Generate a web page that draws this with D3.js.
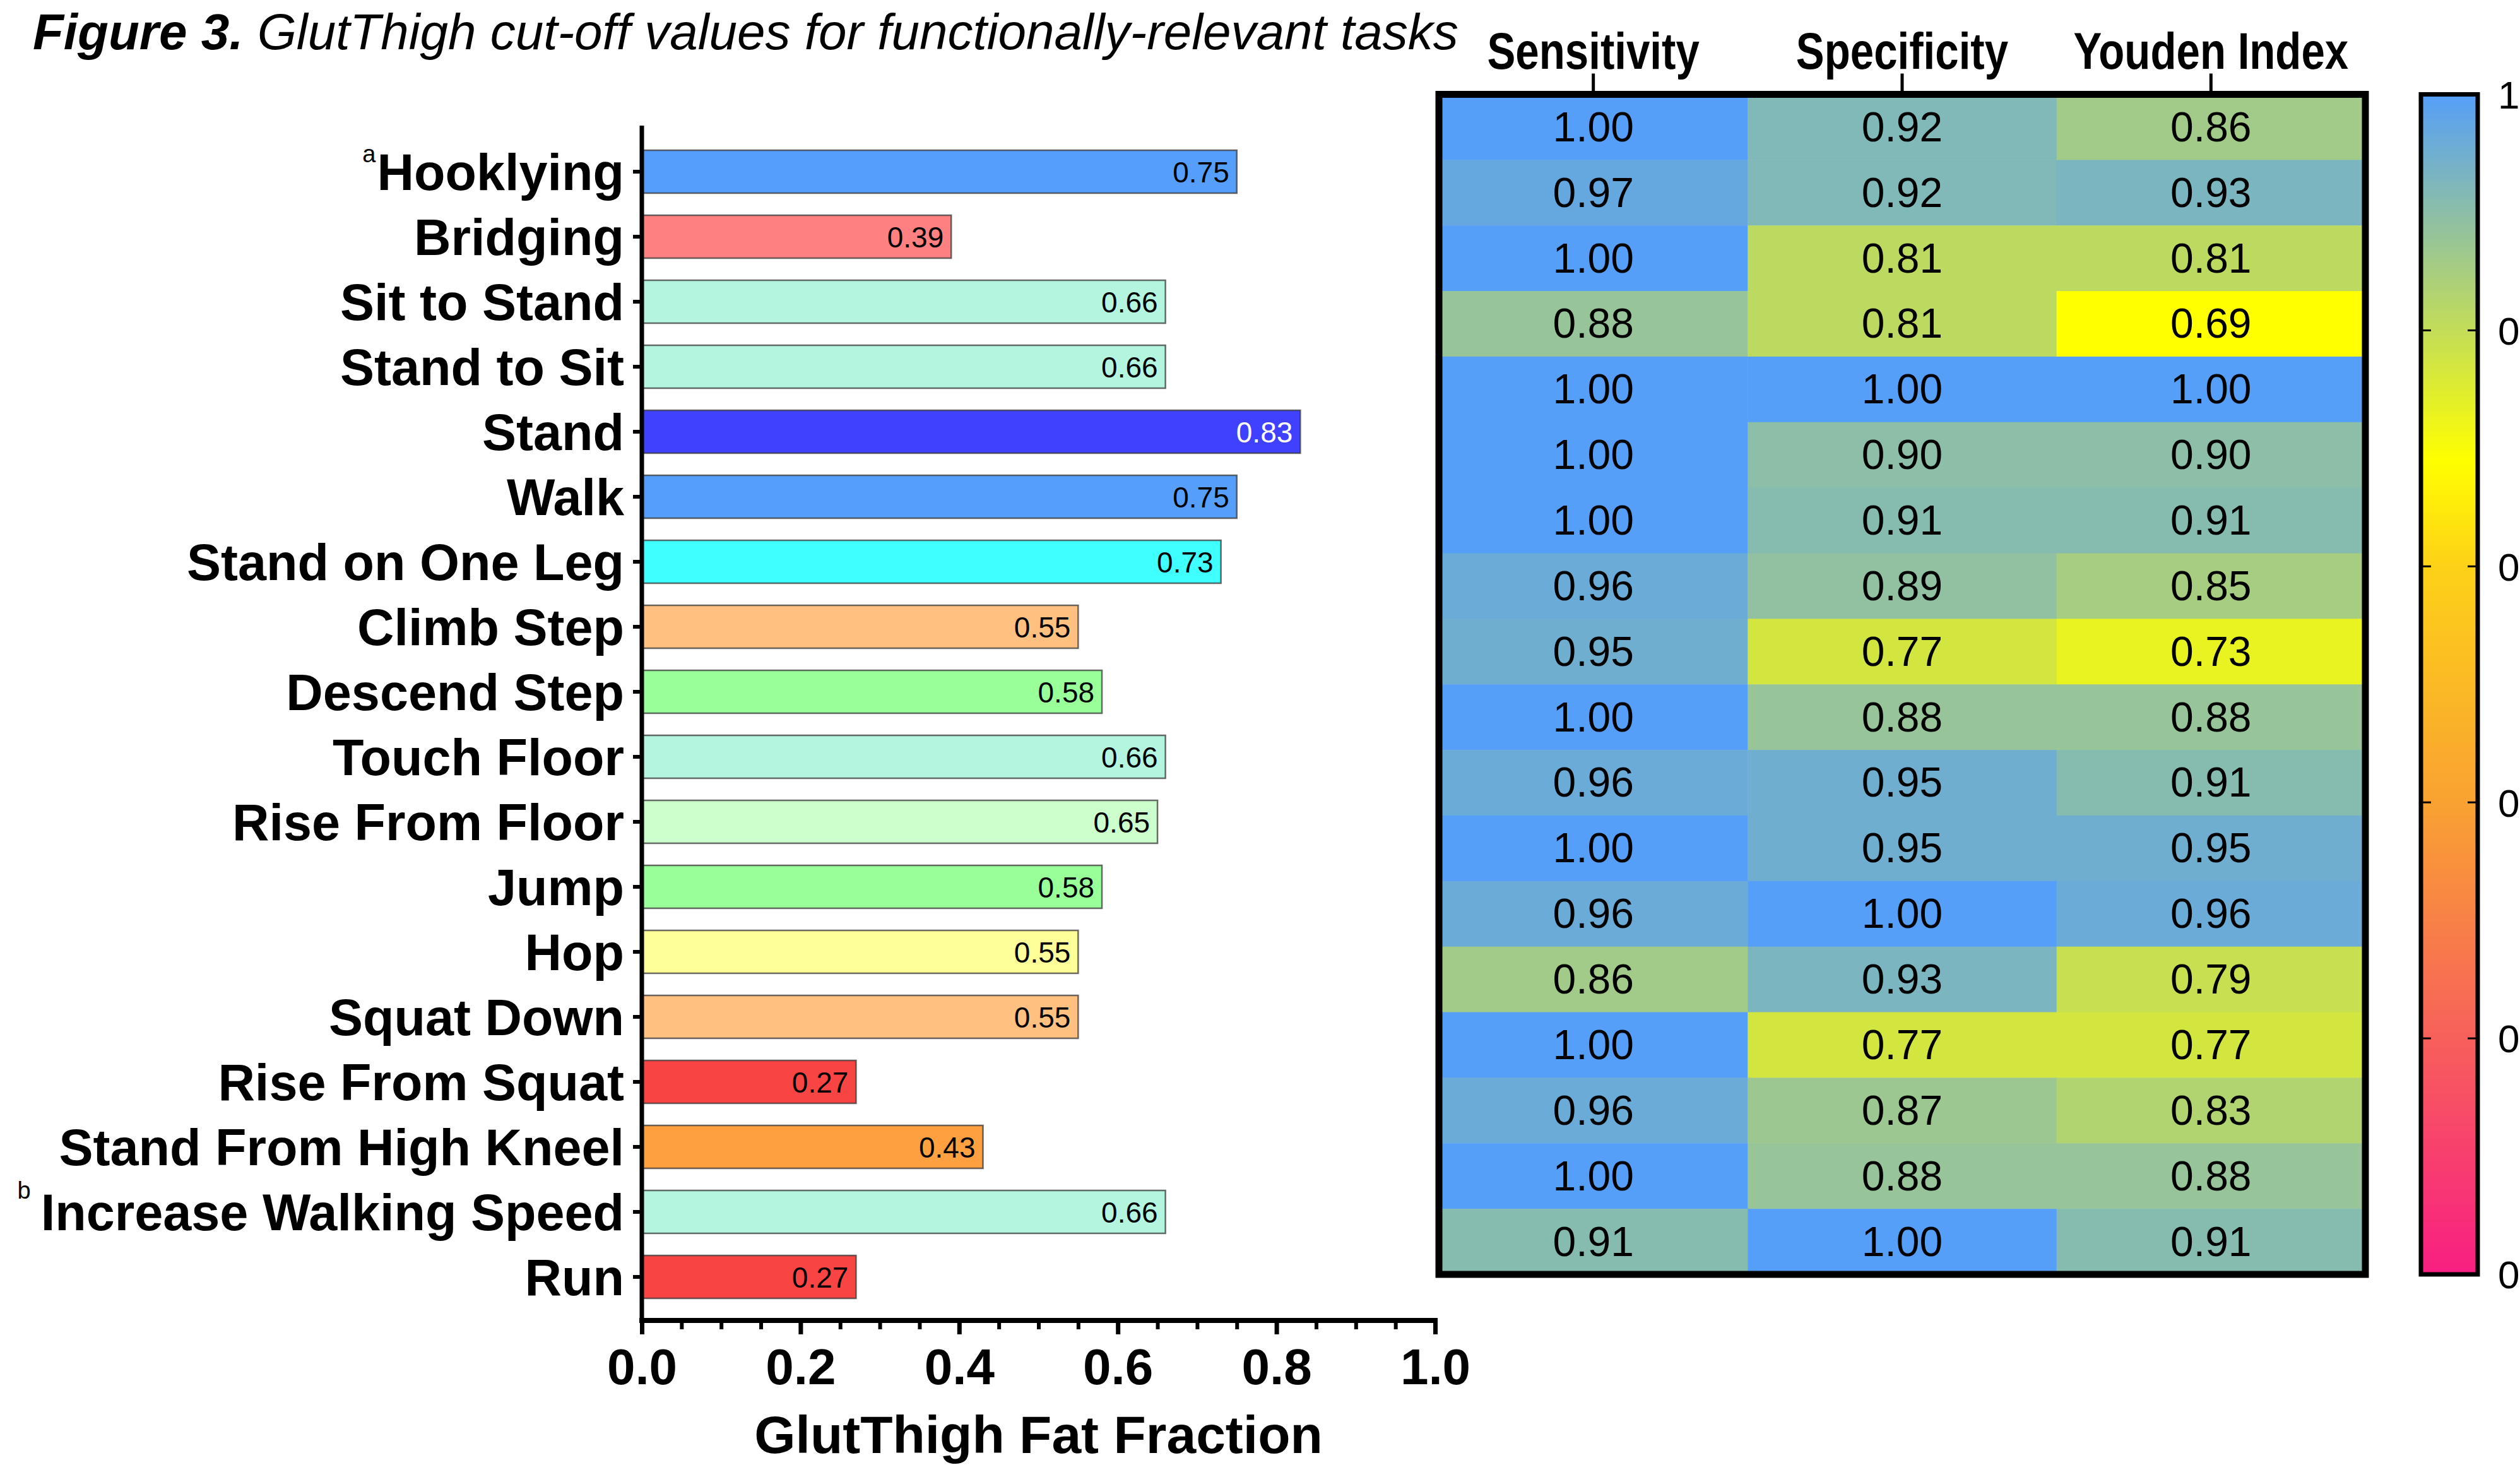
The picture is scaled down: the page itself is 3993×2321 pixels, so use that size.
<!DOCTYPE html>
<html>
<head>
<meta charset="utf-8">
<script src="https://cdn.jsdelivr.net/npm/d3@7"></script>
<style>
  html, body { margin: 0; padding: 0; background: #ffffff; overflow: hidden; }
  svg { display: block; }
</style>
</head>
<body>
<svg id="chart" width="3993" height="2321"></svg>
<script>
// ---------------- DATA ----------------
const tasks = ["Hooklying", "Bridging", "Sit to Stand", "Stand to Sit", "Stand", "Walk",
  "Stand on One Leg", "Climb Step", "Descend Step", "Touch Floor", "Rise From Floor",
  "Jump", "Hop", "Squat Down", "Rise From Squat", "Stand From High Kneel",
  "Increase Walking Speed", "Run"];
const taskNotes = ["a", "", "", "", "", "", "", "", "", "", "", "", "", "", "", "", "b", ""];
const cutoffs = [0.75, 0.39, 0.66, 0.66, 0.83, 0.75, 0.73, 0.55, 0.58, 0.66, 0.65,
  0.58, 0.55, 0.55, 0.27, 0.43, 0.66, 0.27];
const barColors = ["#559ffb", "#ff8080", "#b3f5df", "#b3f5df", "#4040ff", "#559ffb",
  "#40ffff", "#ffc080", "#99ff99", "#b3f5df", "#ccffcc", "#99ff99", "#ffff99",
  "#ffc080", "#f94444", "#ffa040", "#b3f5df", "#f94444"];
const barLabelColors = ["#000", "#000", "#000", "#000", "#fff", "#000", "#000", "#000",
  "#000", "#000", "#000", "#000", "#000", "#000", "#000", "#000", "#000", "#000"];

const metrics = ["Sensitivity", "Specificity", "Youden Index"];
const sensitivity = [1.00, 0.97, 1.00, 0.88, 1.00, 1.00, 1.00, 0.96, 0.95, 1.00, 0.96,
  1.00, 0.96, 0.86, 1.00, 0.96, 1.00, 0.91];
const specificity = [0.92, 0.92, 0.81, 0.81, 1.00, 0.90, 0.91, 0.89, 0.77, 0.88, 0.95,
  0.95, 1.00, 0.93, 0.77, 0.87, 0.88, 1.00];
const youden = [0.86, 0.93, 0.81, 0.69, 1.00, 0.90, 0.91, 0.85, 0.73, 0.88, 0.91,
  0.95, 0.96, 0.79, 0.77, 0.83, 0.88, 0.91];

const xTicks = [0.0, 0.2, 0.4, 0.6, 0.8, 1.0];
const xMinorTicks = d3.range(0, 21).map(i => i * 0.05);
const colorbarTicks = [0.0, 0.2, 0.4, 0.6, 0.8, 1.0];
const colorStopValues = [0.0, 0.2, 0.4, 0.6, 0.69, 1.0];
const colorStopColors = ["#f81e82", "#f7605b", "#f9a232", "#fdd118", "#ffff00", "#559ff8"];

const titleBold = "Figure 3.";
const titleRest = " GlutThigh cut-off values for functionally-relevant tasks";
const xTitle = "GlutThigh Fat Fraction";

// ---------------- LAYOUT ----------------
const svg = d3.select("#chart");
const FONT = "'Liberation Sans', Arial, Helvetica, sans-serif";

// Title
const title = svg.append("text")
  .attr("x", 52).attr("y", 78)
  .attr("font-family", FONT).attr("font-size", 80).attr("font-style", "italic");
title.append("tspan").attr("font-weight", "bold").text(titleBold);
title.append("tspan").attr("font-weight", "normal").text(titleRest);

// ---------------- BAR CHART ----------------
const x = d3.scaleLinear().domain([0, 1]).range([1017, 2274]);
const y = d3.scaleBand().domain(tasks).range([220.5, 2074.5])
  .paddingInner(0.34).paddingOuter(0.17);

const barData = tasks.map((t, i) => ({ task: t, value: cutoffs[i], color: barColors[i],
  labelColor: barLabelColors[i], note: taskNotes[i] }));

const bars = svg.append("g");
bars.selectAll("rect").data(barData).enter().append("rect")
  .attr("x", x(0))
  .attr("y", d => y(d.task))
  .attr("width", d => x(d.value) - x(0))
  .attr("height", y.bandwidth())
  .attr("fill", d => d.color)
  .attr("stroke", "#3a3a3a")
  .attr("stroke-opacity", 0.75)
  .attr("stroke-width", 2.5);

bars.selectAll("text.val").data(barData).enter().append("text")
  .attr("class", "val")
  .attr("x", d => x(d.value) - 12)
  .attr("y", d => y(d.task) + y.bandwidth() / 2)
  .attr("dy", "0.36em")
  .attr("text-anchor", "end")
  .attr("font-family", FONT).attr("font-size", 46)
  .attr("fill", d => d.labelColor)
  .text(d => d3.format(".2f")(d.value));

// X axis: minor ticks
const xAxisY = 2092;
const xAxisMinor = d3.axisBottom(x).tickValues(xMinorTicks).tickSize(14).tickFormat("");
const gMinor = svg.append("g").attr("transform", `translate(0,${xAxisY})`).call(xAxisMinor);
gMinor.select(".domain").remove();
gMinor.selectAll("line").attr("stroke", "#000").attr("stroke-width", 6);

const xAxis = d3.axisBottom(x).tickValues(xTicks).tickSize(22).tickSizeOuter(0)
  .tickPadding(22).tickFormat(d3.format(".1f"));
const gx = svg.append("g").attr("transform", `translate(0,${xAxisY})`).call(xAxis);
gx.select(".domain").attr("stroke", "#000").attr("stroke-width", 8)
  .attr("d", `M${x(0) - 4},0H${x(1) + 4}`);
gx.selectAll(".tick line").attr("stroke", "#000").attr("stroke-width", 7);
gx.selectAll(".tick text").attr("font-family", FONT).attr("font-size", 80)
  .attr("font-weight", "bold").attr("fill", "#000").attr("dy", "0.71em")
  .attr("y", 44);

svg.append("text")
  .attr("x", (x(0) + x(1)) / 2).attr("y", 2302)
  .attr("text-anchor", "middle")
  .attr("font-family", FONT).attr("font-size", 84).attr("font-weight", "bold")
  .text(xTitle);

// Y axis
const yAxis = d3.axisLeft(y).tickSize(14).tickSizeOuter(0).tickPadding(10).tickFormat("");
const gy = svg.append("g").attr("transform", `translate(${x(0)},0)`).call(yAxis);
gy.select(".domain").attr("stroke", "#000").attr("stroke-width", 7)
  .attr("d", `M0,199V${xAxisY + 4}`);
gy.selectAll(".tick line").attr("stroke", "#000").attr("stroke-width", 6);

const LABEL_SIZE = 81;
const catLabels = svg.append("g");
catLabels.selectAll("text").data(barData).enter().append("text")
  .attr("x", 989)
  .attr("y", d => y(d.task) + y.bandwidth() / 2 + LABEL_SIZE * 0.36)
  .attr("text-anchor", "end")
  .attr("font-family", FONT).attr("font-size", LABEL_SIZE).attr("font-weight", "bold")
  .each(function (d) {
    const t = d3.select(this);
    if (d.note) {
      const shift = d.note === "b" ? 50 : 44;
      t.append("tspan").attr("font-size", 38).attr("font-weight", "normal")
        .attr("dy", -shift).text(d.note);
      t.append("tspan").attr("dy", shift).attr("dx", d.note === "b" ? 16 : 2).text(d.task);
    } else {
      t.text(d.task);
    }
  });

// ---------------- HEATMAP ----------------
const hx = d3.scaleBand().domain(metrics).range([2280, 3748]);
const hy = d3.scaleBand().domain(tasks).range([149.5, 2019]);
const color = d3.scaleLinear().domain(colorStopValues).range(colorStopColors)
  .interpolate(d3.interpolateRgb);

const metricValues = [sensitivity, specificity, youden];
const cells = [];
metrics.forEach((m, j) => tasks.forEach((t, i) => cells.push({ metric: m, task: t, value: metricValues[j][i] })));

const hm = svg.append("g");
hm.selectAll("rect").data(cells).enter().append("rect")
  .attr("x", d => hx(d.metric))
  .attr("y", d => hy(d.task))
  .attr("width", hx.bandwidth() + 0.5)
  .attr("height", hy.bandwidth() + 0.5)
  .attr("fill", d => color(d.value));
hm.selectAll("text").data(cells).enter().append("text")
  .attr("x", d => hx(d.metric) + hx.bandwidth() / 2)
  .attr("y", d => hy(d.task) + hy.bandwidth() / 2)
  .attr("dy", "0.34em")
  .attr("text-anchor", "middle")
  .attr("font-family", FONT).attr("font-size", 66)
  .attr("fill", "#000")
  .text(d => d3.format(".2f")(d.value));

// heatmap frame
svg.append("rect")
  .attr("x", hx.range()[0]).attr("y", hy.range()[0])
  .attr("width", hx.range()[1] - hx.range()[0])
  .attr("height", hy.range()[1] - hy.range()[0])
  .attr("fill", "none").attr("stroke", "#000").attr("stroke-width", 11);

// header axis
const hAxis = d3.axisTop(hx).tickSize(28).tickSizeOuter(0).tickPadding(8);
const gh = svg.append("g").attr("transform", `translate(0,${hy.range()[0] - 5})`).call(hAxis);
gh.select(".domain").remove();
gh.selectAll(".tick line").attr("stroke", "#000").attr("stroke-width", 5);
gh.selectAll(".tick text").attr("font-family", FONT).attr("font-size", 82)
  .attr("font-weight", "bold").attr("fill", "#000").attr("dy", 0).attr("y", -36)
  .attr("transform", "scale(0.82,1)");

// ---------------- COLOR BAR ----------------
const cbX0 = 3836, cbX1 = 3926;
const cb = d3.scaleLinear().domain([0, 1]).range([hy.range()[1], hy.range()[0]]);
const defs = svg.append("defs");
const grad = defs.append("linearGradient").attr("id", "cbgrad")
  .attr("x1", 0).attr("y1", 1).attr("x2", 0).attr("y2", 0);
grad.selectAll("stop").data(colorStopValues).enter().append("stop")
  .attr("offset", d => d)
  .attr("stop-color", d => color(d));
svg.append("rect")
  .attr("x", cbX0).attr("y", cb(1))
  .attr("width", cbX1 - cbX0).attr("height", cb(0) - cb(1))
  .attr("fill", "url(#cbgrad)")
  .attr("stroke", "#000").attr("stroke-width", 7);

const cbTicks = svg.append("g");
const innerTicks = colorbarTicks.filter(v => v > 0 && v < 1);
cbTicks.selectAll("line.l").data(innerTicks).enter().append("line")
  .attr("x1", cbX0).attr("x2", cbX0 + 16)
  .attr("y1", d => cb(d)).attr("y2", d => cb(d))
  .attr("stroke", "#000").attr("stroke-width", 3);
cbTicks.selectAll("line.r").data(innerTicks).enter().append("line")
  .attr("x1", cbX1 - 16).attr("x2", cbX1)
  .attr("y1", d => cb(d)).attr("y2", d => cb(d))
  .attr("stroke", "#000").attr("stroke-width", 3);
cbTicks.selectAll("text").data(colorbarTicks).enter().append("text")
  .attr("x", 3958)
  .attr("y", d => cb(d))
  .attr("dy", "0.36em")
  .attr("font-family", FONT).attr("font-size", 62)
  .attr("fill", "#000")
  .text(d => d3.format(".1f")(d));
</script>
</body>
</html>
